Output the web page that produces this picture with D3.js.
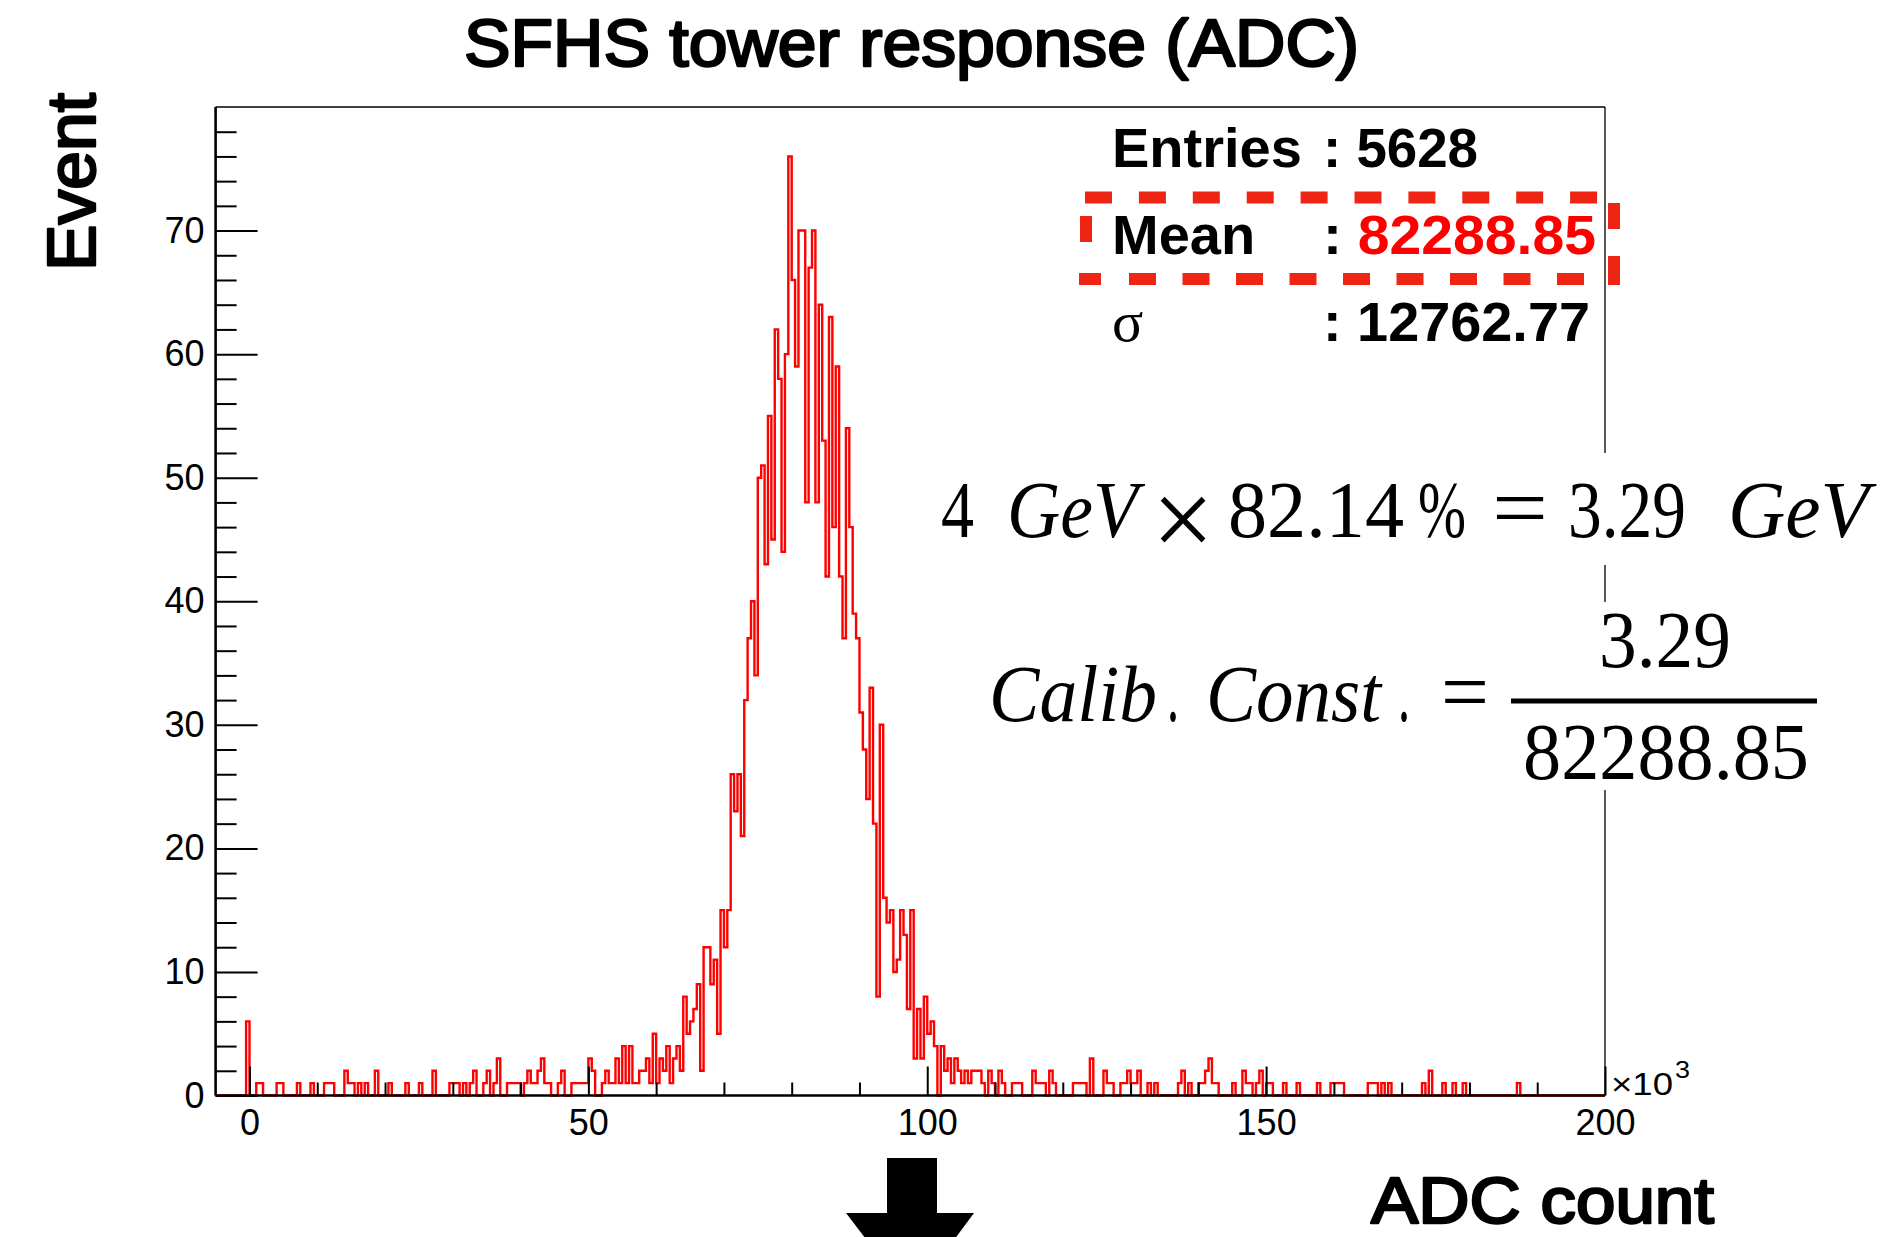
<!DOCTYPE html>
<html lang="en">
<head>
<meta charset="UTF-8">
<title>SFHS tower response (ADC)</title>
<script src="https://d3js.org/d3.v7.min.js"></script>
<style>
  body { margin: 0; background: #fff; }
  svg { display: block; background: #fff; }
  .sans { font-family: "Liberation Sans", Arial, Helvetica, sans-serif; }
  .serif { font-family: "Liberation Serif", "Times New Roman", serif; }
  .heavy { stroke: #000; stroke-width: 2.4; stroke-linejoin: round; }
  .tick text { font-family: "Liberation Sans", Arial, sans-serif; font-size: 36px; fill: #000; }
  .tick line { stroke: #000; stroke-width: 2; }
</style>
</head>
<body>
<svg width="1895" height="1237"></svg>
<script>
// histogram binning: 410 bins of 500 ADC counts from -5000 to 200000
const binWidth = 500;
const histMin = -5000, histMax = 200000;

// sparse bins on the low side: [bin low edge, entries]
const lowTail = [
  [-500, 6], [1000, 1], [1500, 1], [4000, 1], [4500, 1], [7000, 1], [9000, 1],
  [11000, 1], [11500, 1], [12000, 1], [14000, 2], [14500, 1], [15000, 1], [16000, 1],
  [17000, 1], [18500, 2], [20500, 1], [23000, 1], [25000, 1], [27000, 2], [29500, 1],
  [30000, 1], [30500, 1], [31500, 1], [32500, 1], [33000, 2], [34500, 1], [35000, 2],
  [36000, 1], [36500, 3], [38000, 1], [38500, 1], [39000, 1], [39500, 1], [40500, 1],
  [41000, 2], [41500, 1], [42000, 1], [42500, 2], [43000, 3], [43500, 1], [44000, 1],
  [45500, 1], [46000, 2], [47500, 1], [48000, 1], [48500, 1], [49000, 1], [49500, 1],
  [50000, 3], [50500, 2], [52000, 1], [52500, 2], [53000, 1], [53500, 1], [54000, 3],
  [54500, 1]
];

// contiguous bins of the peak, first bin starts at coreStart
const coreStart = 55000;
const coreCounts = [
  4, 1, 4, 1, 1, 2, 2, 3, 1, 5,
  1, 3, 2, 4, 1, 3, 4, 2, 8, 5,
  6, 7, 9, 2, 12, 12, 9, 11, 5, 15,
  12, 15, 26, 23, 26, 21, 32, 37, 40, 34,
  50, 51, 43, 55, 45, 62, 58, 44, 60, 76,
  66, 59, 70, 70, 48, 67, 70, 48, 64, 53,
  42, 63, 46, 59, 42, 37, 54, 46, 39, 37,
  31, 28, 24, 33, 22, 8, 30, 16, 14, 15,
  10, 11, 15, 13, 7, 15, 3, 7, 3, 8,
  5, 6, 4, 0, 4, 2, 3, 1, 3, 2,
  1, 2, 1, 2, 2, 2, 1, 0, 2, 1
];

// sparse bins on the high side
const highTail = [
  [110500, 2], [111000, 1], [112500, 1], [113000, 1], [113500, 1], [115500, 2],
  [116000, 1], [116500, 1], [117000, 1], [118000, 2], [118500, 1], [121500, 1],
  [122000, 1], [122500, 1], [123000, 1], [124000, 3], [126000, 2], [126500, 1],
  [127000, 1], [128500, 1], [129000, 1], [129500, 2], [130000, 1], [130500, 1],
  [131000, 2], [132500, 1], [133500, 1], [137000, 1], [137500, 2], [138500, 1],
  [140000, 1], [140500, 1], [141000, 2], [141500, 3], [142000, 1], [142500, 1],
  [145000, 1], [146500, 2], [147000, 1], [147500, 1], [148500, 1], [149000, 2],
  [150000, 1], [150500, 1], [152500, 1], [154500, 1], [157500, 1], [159500, 1],
  [160000, 1], [160500, 1], [161000, 1], [165000, 1], [165500, 1], [166000, 1],
  [167000, 1], [168000, 1], [173000, 1], [174000, 2], [176000, 1], [177500, 1],
  [179000, 1], [187000, 1]
];

const xMajorTicks = [0, 50000, 100000, 150000, 200000];
const yMajorTicks = [0, 10, 20, 30, 40, 50, 60, 70];

const statRows = [
  { label: "Entries", value: "5628" },
  { label: "Mean", value: "82288.85" },
  { label: "σ", value: "12762.77" }
];

// formula pieces: text, left, right, italic, size, baseline shift
const formula1 = [
  ["4", 941, 974, false, 80, 0], ["GeV", 1007, 1138, true, 80, 0], ["×", 1152, 1214, false, 112, 20],
  ["82.14", 1228, 1404, false, 80, 0], ["%", 1418, 1466, false, 80, 0], ["=", 1492, 1548, false, 86, 0],
  ["3.29", 1568, 1686, false, 80, 0], ["GeV", 1728, 1869, true, 80, 0]
];
const formula2 = [
  ["Calib", 989, 1157, true, 80, 0], [".", 1167, 1179, false, 86, 0], ["Const", 1206, 1381, true, 80, 0],
  [".", 1398, 1410, false, 86, 0], ["=", 1441, 1489, false, 86, 0]
];

const svg = d3.select("svg");
const frame = { left: 215.6, right: 1605, top: 107, bottom: 1095.5 };

const x = d3.scaleLinear().domain([histMin, histMax]).range([frame.left, frame.right]);
const y = d3.scaleLinear().domain([0, 80]).range([frame.bottom, frame.top]);

// fill the bins
const nBins = (histMax - histMin) / binWidth;
const counts = new Array(nBins).fill(0);
lowTail.concat(highTail).forEach(([lo, c]) => { counts[(lo - histMin) / binWidth] = c; });
coreCounts.forEach((c, i) => { counts[(coreStart - histMin) / binWidth + i] = c; });

const pts = [[histMin, 0]];
counts.forEach((c, i) => {
  const lo = histMin + i * binWidth;
  pts.push([lo, c], [lo + binWidth, c]);
});
pts.push([histMax, 0]);

svg.append("path")
  .attr("d", d3.line().x(d => x(d[0])).y(d => y(d[1]))(pts))
  .attr("fill", "none")
  .attr("stroke", "#ff0000")
  .attr("stroke-width", 2.4);

// axes (ticks point into the frame)
svg.append("g")
  .attr("transform", `translate(0,${frame.bottom})`)
  .call(d3.axisBottom(x).tickValues(xMajorTicks).tickSize(-29).tickPadding(14).tickFormat(d => d / 1000))
  .call(g => g.select(".domain").remove());

svg.append("g")
  .attr("transform", `translate(0,${frame.bottom})`)
  .call(d3.axisBottom(x).tickValues(d3.range(10000, 200000, 10000).filter(v => v % 50000)).tickSize(-13).tickFormat(""))
  .call(g => g.select(".domain").remove());

svg.append("g")
  .attr("transform", `translate(${frame.left},0)`)
  .call(d3.axisLeft(y).tickValues(yMajorTicks).tickSize(-42).tickPadding(11))
  .call(g => g.select(".domain").remove());

svg.append("g")
  .attr("transform", `translate(${frame.left},0)`)
  .call(d3.axisLeft(y).tickValues(d3.range(2, 80, 2).filter(v => v % 10)).tickSize(-21).tickFormat(""))
  .call(g => g.select(".domain").remove());

// frame
svg.append("line").attr("x1", frame.left).attr("x2", frame.right).attr("y1", frame.top).attr("y2", frame.top)
  .attr("stroke", "#000").attr("stroke-width", 1.3);
svg.append("line").attr("x1", frame.right).attr("x2", frame.right).attr("y1", frame.top).attr("y2", frame.bottom)
  .attr("stroke", "#000").attr("stroke-width", 1.3);
svg.append("line").attr("x1", frame.left).attr("x2", frame.right).attr("y1", frame.bottom).attr("y2", frame.bottom)
  .attr("stroke", "#000").attr("stroke-width", 2.6);
svg.append("line").attr("x1", frame.left).attr("x2", frame.left).attr("y1", frame.top).attr("y2", frame.bottom)
  .attr("stroke", "#000").attr("stroke-width", 2.6);

// x10^3 multiplier
svg.append("text").attr("class", "sans")
  .attr("x", 1611).attr("y", 1095).attr("font-size", 32)
  .attr("textLength", 62).attr("lengthAdjust", "spacingAndGlyphs")
  .text("×10");
svg.append("text").attr("class", "sans")
  .attr("x", 1675).attr("y", 1078).attr("font-size", 23)
  .attr("textLength", 15).attr("lengthAdjust", "spacingAndGlyphs")
  .text("3");

// titles
svg.append("text").attr("class", "sans heavy")
  .attr("x", 464).attr("y", 66).attr("font-size", 66)
  .attr("textLength", 895).attr("lengthAdjust", "spacingAndGlyphs")
  .text("SFHS tower response (ADC)");

svg.append("text").attr("class", "sans heavy")
  .attr("x", 1371).attr("y", 1223).attr("font-size", 64)
  .attr("textLength", 343).attr("lengthAdjust", "spacingAndGlyphs")
  .text("ADC count");

svg.append("text").attr("class", "sans heavy")
  .attr("transform", "translate(95,182) rotate(-90)")
  .attr("font-size", 68)
  .attr("text-anchor", "middle")
  .attr("textLength", 178).attr("lengthAdjust", "spacingAndGlyphs")
  .text("Event");

// statistics box
const rowBase = [167, 254, 341];
const valueWidth = [155, 273, 267];
statRows.forEach((r, i) => {
  svg.append("text")
    .attr("class", r.label === "σ" ? "serif" : "sans")
    .attr("x", 1112).attr("y", rowBase[i])
    .attr("font-size", r.label === "σ" ? 58 : 56)
    .attr("font-weight", r.label === "σ" ? "normal" : "bold")
    .text(r.label);
  const v = svg.append("text").attr("class", "sans")
    .attr("x", 1323).attr("y", rowBase[i])
    .attr("font-size", 56).attr("font-weight", "bold")
    .attr("textLength", valueWidth[i]).attr("lengthAdjust", "spacingAndGlyphs");
  v.append("tspan").text(": ");
  v.append("tspan").attr("fill", r.label === "Mean" ? "#ff0000" : "#000").text(r.value);
});

// red dashed highlight round the mean
const dashRed = "#ee2514";
const dash = svg.append("g").attr("stroke", dashRed).attr("stroke-width", 12).attr("fill", "none");
dash.append("line").attr("x1", 1085).attr("x2", 1600).attr("y1", 197.5).attr("y2", 197.5)
  .attr("stroke-dasharray", "27 26.9");
dash.append("line").attr("x1", 1079).attr("x2", 1590).attr("y1", 279).attr("y2", 279)
  .attr("stroke-dasharray", "22 28 27 26.5 27 26.5 27 26.5 27 26.5 27 26.5 27 26.5 27 26.5 27 26.5 27 26.5");
dash.append("line").attr("x1", 1086).attr("x2", 1086).attr("y1", 216).attr("y2", 242);
dash.append("line").attr("x1", 1614).attr("x2", 1614).attr("y1", 203).attr("y2", 229);
dash.append("line").attr("x1", 1614).attr("x2", 1614).attr("y1", 256).attr("y2", 285);

// formulas on white boxes
svg.append("rect").attr("x", 930).attr("y", 453).attr("width", 955).attr("height", 112).attr("fill", "#fff");
svg.append("rect").attr("x", 980).attr("y", 602).attr("width", 850).attr("height", 188).attr("fill", "#fff");

function piece(p, base) {
  svg.append("text").attr("class", "serif")
    .attr("x", p[1]).attr("y", base + (p[5] || 0))
    .attr("font-size", p[4])
    .attr("font-style", p[3] ? "italic" : "normal")
    .attr("textLength", p[2] - p[1]).attr("lengthAdjust", "spacingAndGlyphs")
    .text(p[0]);
}
formula1.forEach(p => piece(p, 537));
formula2.forEach(p => piece(p, 721));
piece(["3.29", 1599, 1731, false, 80, 0], 667);
piece(["82288.85", 1523, 1809, false, 80, 0], 779);
svg.append("line").attr("x1", 1511).attr("x2", 1817).attr("y1", 701).attr("y2", 701)
  .attr("stroke", "#000").attr("stroke-width", 5);

// down arrow
svg.append("path")
  .attr("d", "M887,1158 L937,1158 L937,1213 L974,1213 L911,1298 L846,1213 L887,1213 Z")
  .attr("fill", "#000");
</script>
</body>
</html>
